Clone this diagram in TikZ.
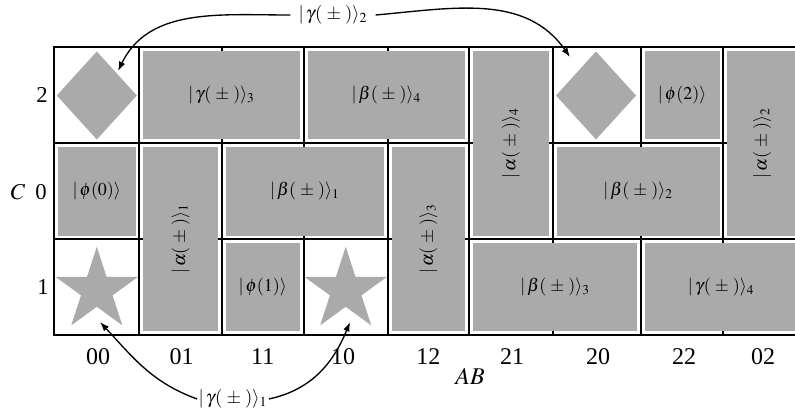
\documentclass[tikz,border=0pt]{standalone}
\usepackage{mathptmx}
\usepackage[no-math]{fontspec}
\setmainfont{Liberation Serif}
\usetikzlibrary{arrows.meta}
\definecolor{boxgray}{RGB}{170,170,170}
\newcommand\gcell[7][]{%
  \fill[boxgray] ({#2+3.8},{#3+3.8}) rectangle ({#4-3.8},{#5-3.8});
  \node[cellab,#1] (#6) at ({(#2+#4)/2},{(#3+#5)/2}) {#7};}
\newcommand\gstar[2]{%
  \fill[boxgray] plot[samples at={0,1,...,9}, variable=\k]
    ({#1+(30.05+13.45*cos(180*\k))*sin(36*\k)},{#2+(30.05+13.45*cos(180*\k))*cos(36*\k)}) -- cycle;}
\newcommand\gdiam[2]{%
  \fill[boxgray] (#1,{#2+44}) -- ({#1+40},#2) -- (#1,{#2-44}) -- ({#1-40},#2) -- cycle;}
\newcommand\ket[1]{|\,#1\rangle}
\newcommand\pmarg{(\;\pm\;)}
\begin{document}
\begin{tikzpicture}[x=0.75pt,y=0.75pt,
  gridline/.style={line width=1.5pt, line cap=rect},
  cellab/.style={font=\fontsize{13.5}{16}\selectfont, inner sep=0pt},
  rowlab/.style={font=\fontsize{17}{20}\selectfont, inner sep=0pt},
  collab/.style={font=\fontsize{18}{21}\selectfont, inner sep=0pt},
  arrlab/.style={font=\fontsize{14}{16}\selectfont, inner sep=1pt},
  conn/.style={line width=1pt, -{Latex[length=7pt,width=5pt]}}]
\useasboundingbox (0,0) rectangle (795,408);
% grid
\foreach \x in {54.3,139.3,221.7,303.7,387.7,469,552.7,641,723.3,801}
  \draw[gridline] (\x,73) -- (\x,360.7);
\foreach \y in {73,168.7,265.3,360.7}
  \draw[gridline] (54.3,\y) -- (801,\y);
% boxes
\gcell{139.3}{265.3}{303.7}{360.7}{g3}{$\ket{\gamma\pmarg}_3$}
\gcell{303.7}{265.3}{469}{360.7}{b4}{$\ket{\beta\pmarg}_4$}
\gcell[rotate=90]{469}{168.7}{552.7}{360.7}{a4}{$\ket{\alpha\pmarg}_4$}
\gcell{641}{265.3}{723.3}{360.7}{p2}{$\ket{\phi(2)}$}
\gcell[rotate=90]{723.3}{168.7}{801}{360.7}{a2}{$\ket{\alpha\pmarg}_2$}
\gcell{54.3}{168.7}{139.3}{265.3}{p0}{$\ket{\phi(0)}$}
\gcell[rotate=90]{139.3}{73}{221.7}{265.3}{a1}{$\ket{\alpha\pmarg}_1$}
\gcell{221.7}{168.7}{387.7}{265.3}{b1}{$\ket{\beta\pmarg}_1$}
\gcell[rotate=90]{387.7}{73}{469}{265.3}{a3}{$\ket{\alpha\pmarg}_3$}
\gcell{552.7}{168.7}{723.3}{265.3}{b2}{$\ket{\beta\pmarg}_2$}
\gcell{221.7}{73}{303.7}{168.7}{p1}{$\ket{\phi(1)}$}
\gcell{469}{73}{641}{168.7}{b3}{$\ket{\beta\pmarg}_3$}
\gcell{641}{73}{801}{168.7}{g4}{$\ket{\gamma\pmarg}_4$}
% shapes
\gdiam{96.8}{312.5}
\gdiam{596}{312.5}
\gstar{96.8}{117.8}
\gstar{345.7}{117.8}
% row labels
\node[rowlab] (r2) at (42,313) {2};
\node[rowlab] (r0) at (41,216) {0};
\node[rowlab] (r1) at (43,121) {1};
\node[rowlab] (cl) at (18,216) {$C$};
% column labels
\node[collab] (c00) at (98,51) {00};
\node[collab] (c01) at (181.5,51) {01};
\node[collab] (c11) at (262.7,51) {11};
\node[collab] (c10) at (343,51) {10};
\node[collab] (c12) at (428.3,51) {12};
\node[collab] (c21) at (512,51) {21};
\node[collab] (c20) at (598,51) {20};
\node[collab] (c22) at (684,51) {22};
\node[collab] (c02) at (763,51) {02};
\node[collab] (ab) at (470,32) {$AB$};
% arrows
\node[arrlab, inner sep=6pt] (gt) at (333,393) {$\ket{\gamma\pmarg}_2$};
\coordinate (tl) at (118,337);
\coordinate (tr) at (570,351);
\draw[conn] (gt.west) to[out=180,in=64] (tl);
\draw[conn] (gt.east) to[out=5,in=125] (tr);
\node[arrlab] (gb) at (233,9) {$\ket{\gamma\pmarg}_1$};
\coordinate (bl) at (100,86);
\coordinate (br) at (350,86);
\draw[conn] (gb.west) to[out=160,in=-47] (bl);
\draw[conn] (gb.east) to[out=12,in=-112] (br);
\end{tikzpicture}
\end{document}
